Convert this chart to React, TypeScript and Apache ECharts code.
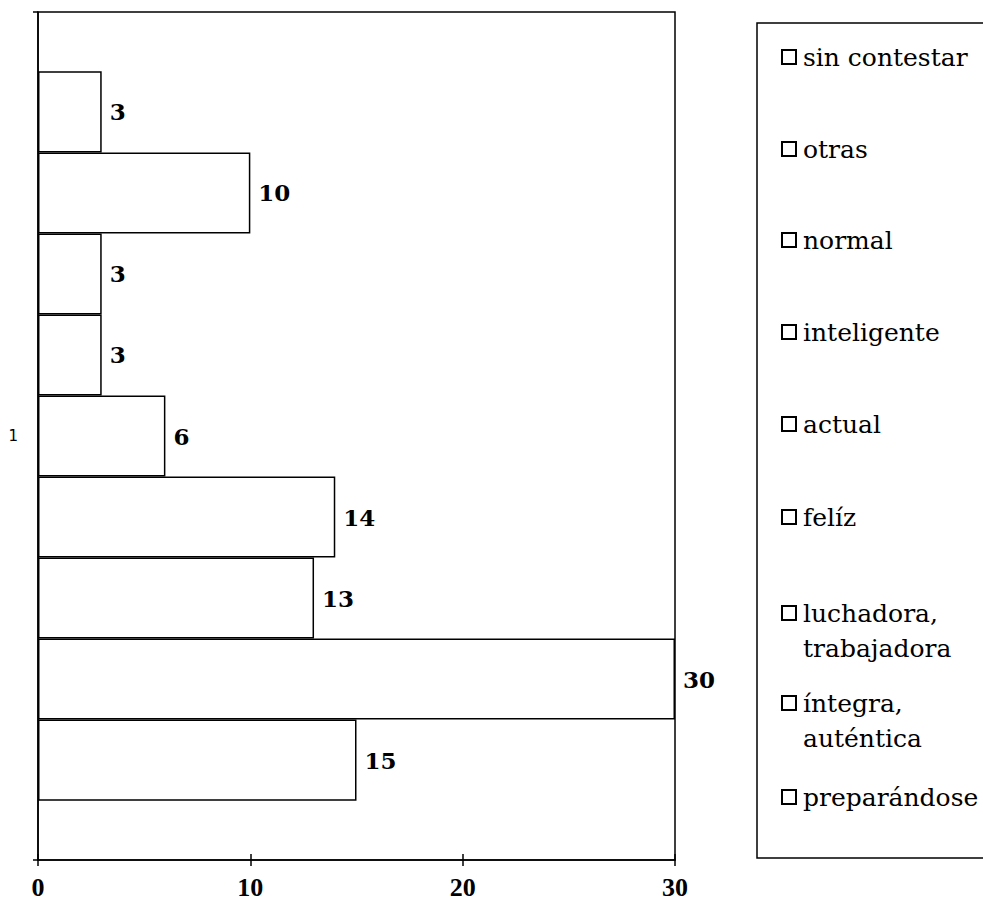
import React, { useEffect, useRef } from "react";
import * as echarts from "echarts";

const categories = ["1"];
// top-to-bottom order (as drawn)
const seriesNames = [
  "sin contestar",
  "otras",
  "normal",
  "inteligente",
  "actual",
  "felíz",
  "luchadora, trabajadora",
  "íntegra, auténtica",
  "preparándose",
];
const seriesValues = [3, 10, 3, 3, 6, 14, 13, 30, 15];
// legend order, top to bottom
const legendOrder = [
  "sin contestar",
  "otras",
  "normal",
  "inteligente",
  "actual",
  "felíz",
  "luchadora, trabajadora",
  "íntegra, auténtica",
  "preparándose",
];
// a leading blank line keeps the marker level with the first text line
const legendLabels: Record<string, string> = {
  "luchadora, trabajadora": " \nluchadora,\ntrabajadora",
  "íntegra, auténtica": " \níntegra,\nauténtica",
};
// vertical centre of each legend marker (first text line)
const legendCenters = [57, 149, 240, 332, 424, 517, 613, 703, 797];
const xTicks = [0, 10, 20, 30];

const SERIF = "'DejaVu Serif', 'Liberation Serif', serif";

export default function App() {
  const ref = useRef<HTMLDivElement>(null);
  useEffect(() => {
    if (!ref.current) return;
    const chart = echarts.init(ref.current, undefined, { renderer: "svg" });
    const series = seriesNames.map((name, i) => ({
      name,
      type: "bar",
      data: [seriesValues[i]],
      barGap: "0%",
      barCategoryGap: "14%",
      itemStyle: { color: "#ffffff", borderColor: "#000000", borderWidth: 1.5 },
      label: {
        show: true,
        position: "right",
        distance: 8,
        fontFamily: SERIF,
        fontWeight: "bold",
        fontSize: 23,
        color: "#000",
      },
    }));
    const legends = legendOrder.map((name, i) => {
      const twoLine = !!legendLabels[name];
      const lh = twoLine ? 35 : 30;
      return {
        data: [name],
        left: 781,
        top: legendCenters[i] - (twoLine ? lh * 1.5 : lh / 2),
        orient: "vertical",
        padding: 0,
        itemWidth: 14,
        itemHeight: 14,
        itemGap: 0,
        selectedMode: false,
        icon: "rect",
        formatter: (n: string) => legendLabels[n] ?? n,
        textStyle: {
          fontFamily: SERIF,
          fontSize: 25,
          color: "#000",
          lineHeight: lh,
          padding: [0, 0, 0, 2],
        },
      };
    });
    chart.setOption({
      animation: false,
      backgroundColor: "#fff",
      grid: {
        left: 38,
        right: 308,
        top: 12,
        bottom: 58,
        show: true,
        borderColor: "#000",
        borderWidth: 1.5,
        containLabel: false,
      },
      legend: legends,
      graphic: [
        {
          type: "rect",
          shape: { x: 757, y: 23, width: 240, height: 835 },
          style: { fill: "none", stroke: "#000", lineWidth: 1.5 },
          z: -1,
        },
      ],
      xAxis: [
        {
          type: "value",
          min: 0,
          max: 30,
          interval: 10,
          position: "bottom",
          splitLine: { show: false },
          axisLine: { show: true, lineStyle: { color: "#000", width: 1.5 } },
          axisTick: { show: true, length: 6, lineStyle: { color: "#000", width: 1.5 } },
          axisLabel: {
            margin: 14,
            fontFamily: "'Liberation Serif', serif",
            fontWeight: "bold",
            fontSize: 26,
            color: "#000",
            formatter: (v: number) => (xTicks.includes(v) ? String(v) : ""),
          },
        },
        {
          type: "value",
          min: 0,
          max: 30,
          interval: 10,
          position: "bottom",
          splitLine: { show: false },
          axisLine: { show: false },
          axisTick: { show: true, inside: true, length: 6, lineStyle: { color: "#000", width: 1.5 } },
          axisLabel: { show: false },
        },
      ],
      yAxis: {
        type: "category",
        data: categories,
        axisLine: { show: true, lineStyle: { color: "#000", width: 1.5 } },
        axisTick: { show: true, length: 5, lineStyle: { color: "#000", width: 1.5 } },
        axisLabel: { margin: 20, fontFamily: "'DejaVu Sans', sans-serif", fontSize: 15, color: "#000" },
      },
      series,
    });
    return () => chart.dispose();
  }, []);
  return <div ref={ref} style={{ width: 983, height: 918, position: "absolute", left: 0, top: 0 }} />;
}
